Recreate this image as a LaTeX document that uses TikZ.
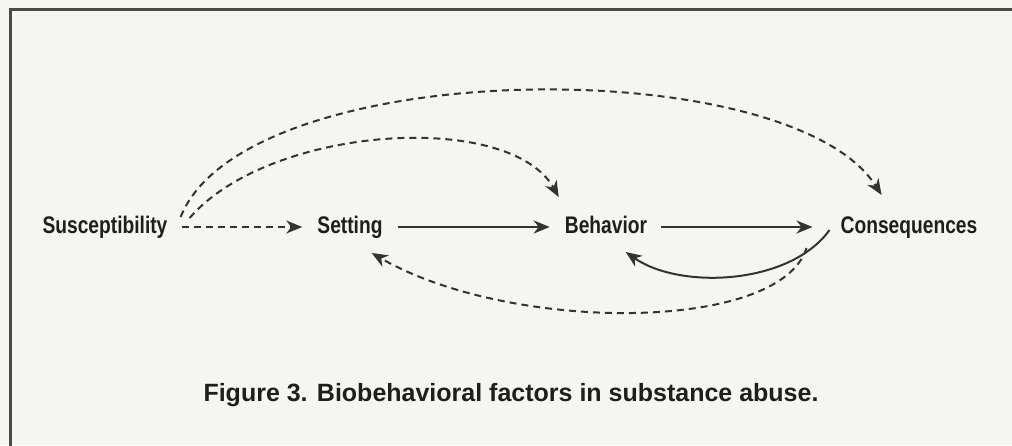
\documentclass[tikz,border=0pt]{standalone}
\usepackage{fontspec}
\setmainfont{Liberation Sans}
\newfontfamily\condfont[FakeStretch=0.8]{Liberation Sans}
\usetikzlibrary{arrows.meta}
\definecolor{bg}{HTML}{F5F5F1}
\definecolor{ink}{HTML}{1E1E1E}
\definecolor{lineink}{HTML}{333333}
\definecolor{frameink}{HTML}{4A4A4A}
\tikzset{
  lbl/.style={inner sep=0pt, text height=17pt, text depth=5pt, text=ink, font=\condfont\bfseries\fontsize{24}{28}\selectfont},
  captext/.style={inner sep=0pt, text=ink, font=\bfseries\fontsize{25}{30}\selectfont},
  arrowtip/.style={-{Stealth[length=16pt,width=13pt,inset=5pt]}},
  solidarr/.style={arrowtip, draw=lineink, line width=2pt},
  dasharr/.style={arrowtip, draw=lineink, line width=2pt, dash pattern=on 7pt off 5pt},
}
\begin{document}
\begin{tikzpicture}[x=1pt,y=-1pt]
\useasboundingbox (0,0) rectangle (1012,445);
\fill[bg] (0,0) rectangle (1012,445);
\draw[frameink, line width=3pt] (10,9) rectangle (1080,500);

\node[lbl] (susc) at (105,227) {Susceptibility};
\node[lbl] (set)  at (350,227) {Setting};
\node[lbl] (beh)  at (606,227) {Behavior};
\node[lbl] (cons) at (909,227) {Consequences};
\node[captext] (caption) at (511,395) {Figure 3. Biobehavioral factors in substance abuse.};

% straight arrows
\draw[dasharr]  ([xshift=14pt]susc.east) -- ([xshift=-15pt]set.west);
\draw[solidarr] ([xshift=15pt]set.east)  -- ([xshift=-15pt]beh.west);
\draw[solidarr] ([xshift=14pt]beh.east)  -- ([xshift=-28pt]cons.west);

% arcs above
\draw[dasharr] ([shift={(13,-10)}]susc.east) .. controls (245,55) and (790,50) .. ([shift={(41,-32)}]cons.west);
\draw[dasharr] ([shift={(22,-9)}]susc.east) .. controls (270,125) and (510,110) .. ([shift={(-6,-30)}]beh.west);

% arcs below
\draw[solidarr] ([shift={(-11,3)}]cons.west) .. controls (790,285) and (680,290) .. ([shift={(61,25)}]beh.west);
\draw[dasharr] ([shift={(-34,21)}]cons.west) .. controls (780,333) and (510,333) .. ([shift={(-11,26)}]set.east);
\end{tikzpicture}
\end{document}
